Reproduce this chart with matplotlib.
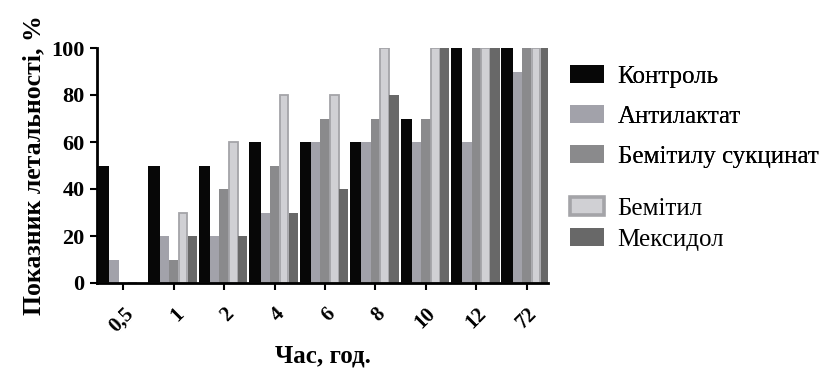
import numpy as np
import matplotlib
matplotlib.use("Agg")
import matplotlib.pyplot as plt
from matplotlib.patches import Patch

categories = ["0,5", "1", "2", "4", "6", "8", "10", "12", "72"]
series_names = ["Контроль", "Антилактат", "Бемітилу сукцинат", "Бемітил", "Мексидол"]
control = [50, 50, 50, 60, 60, 60, 70, 100, 100]
antilactat = [10, 20, 20, 30, 60, 60, 60, 60, 90]
bemityl_succ = [0, 10, 40, 50, 70, 70, 70, 100, 100]
bemityl = [0, 30, 60, 80, 80, 100, 100, 100, 100]
mexidol = [0, 20, 20, 30, 40, 80, 100, 100, 100]
yticks = [0, 20, 40, 60, 80, 100]

series = [control, antilactat, bemityl_succ, bemityl, mexidol]
faces = ["#070707", "#a2a2aa", "#8a8a8c", "#d0d0d4", "#686868"]
edges = ["#070707", "#a2a2aa", "#8a8a8c", "#a4a4a8", "#686868"]
lws = [0, 0, 0, 1.3, 0]

plt.rcParams["font.family"] = ["Liberation Serif", "DejaVu Serif"]

fig = plt.figure(figsize=(8.34, 3.71), dpi=100)
ax = fig.add_axes([97 / 834, 1 - 283 / 371, (548 - 97) / 834, (283 - 48) / 371])

x = np.arange(len(categories))
w = 0.185
handles = []
for i, (vals, fc, ec, lw, name) in enumerate(zip(series, faces, edges, lws, series_names)):
    off = (i - 2) * w
    width = w
    if i == 0:
        off -= 0.02
        width = w + 0.04
    ax.bar(x + off, vals, width=width * (1 if i != 3 else 0.93), color=fc, edgecolor=ec,
           linewidth=lw, zorder=3 if i == 0 else 2)
    handles.append(Patch(facecolor=fc, edgecolor=ec, linewidth=lw * 2 if lw else 0, label=name))

ax.set_xlim(-0.52, 8.42)
ax.set_ylim(0, 100)
ax.set_yticks(yticks)
ax.set_yticklabels([str(v) for v in yticks], fontsize=16, fontweight="bold")
ax.set_xticks(x)
ax.set_xticklabels(categories, rotation=45, ha="right", rotation_mode="anchor",
                   fontsize=15, fontweight="bold")
for s in ["top", "right"]:
    ax.spines[s].set_visible(False)
for s in ["left", "bottom"]:
    ax.spines[s].set_linewidth(2)
ax.tick_params(axis="both", direction="out", length=5, width=1.5, pad=4)
ax.tick_params(axis="x", pad=10)

ax.set_ylabel("Показник летальності, %", fontsize=18.5, fontweight="bold", labelpad=4)
ax.set_xlabel("Час, год.", fontsize=18, fontweight="bold", labelpad=6)

common = dict(loc="upper left", frameon=False, fontsize=18, handlelength=1.35,
              handleheight=0.75, handletextpad=0.55, borderaxespad=0, borderpad=0)
leg1 = fig.legend(handles=handles[:3], bbox_to_anchor=(570 / 834, 1 - 65 / 371),
                  labelspacing=0.68, **common)
leg2 = fig.legend(handles=handles[3:], bbox_to_anchor=(570 / 834, 1 - 197 / 371),
                  labelspacing=0.32, **common)
fig.add_artist(leg1)

fig.savefig("out.png", dpi=100)
